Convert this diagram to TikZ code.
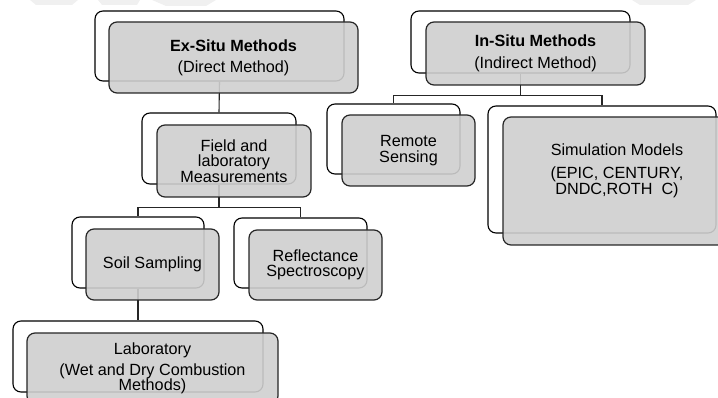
\documentclass[tikz,border=0pt]{standalone}
\usepackage{fontspec}
\setmainfont{Liberation Sans}
\definecolor{boxgray}{RGB}{207,207,207}
\definecolor{wmgray}{RGB}{240,240,240}
\begin{document}
\begin{tikzpicture}[x=1pt,y=-1pt,
  backbox/.style={draw=black, line width=1.1pt, rounded corners=8pt, fill=white,
     inner sep=0pt, minimum width=#1},
  frontbox/.style={draw=black!85, line width=1.2pt, rounded corners=8pt, fill=boxgray,
     fill opacity=0.9, text opacity=1, inner sep=0pt, minimum width=#1, align=center,
     font=\fontsize{16.2}{15.5}\selectfont},
  txt/.style={align=center, inner sep=0pt, font=\fontsize{16.2}{14.5}\selectfont},
  conn/.style={draw=black!85, line width=1.1pt}
]
\useasboundingbox (0,0) rectangle (718,398);
\clip (0,0) rectangle (718,398);
% faint watermark fragments
\fill[wmgray] (30,0) -- (78,0) -- (72,5) -- (36,5) -- cycle;
\fill[wmgray] (98,0) -- (140,0) -- (137,5) -- (102,5) -- cycle;
\fill[wmgray] (152,0) -- (216,0) -- (206,6) -- (166,6) -- cycle;
\fill[wmgray] (632,0) -- (696,0) -- (688,5) -- (640,5) -- cycle;

% back boxes
\node[backbox=249, minimum height=70] (exb) at (219.5,46) {};
\node[backbox=219, minimum height=62] (inb) at (520.5,42) {};
\node[backbox=154, minimum height=71] (fb) at (219,148.5) {};
\node[backbox=133, minimum height=70] (remb) at (393.5,139) {};
\node[backbox=228, minimum height=127] (simb) at (602,169.5) {};
\node[backbox=132, minimum height=71] (soilb) at (138,252.5) {};
\node[backbox=133, minimum height=70] (reflb) at (300.5,253) {};
\node[backbox=250, minimum height=71] (labb) at (138,356.5) {};

% connectors
\draw[conn] (exb.south) -- (fb.north);
\draw[conn] (fb.south) -- ++(0,23) -| (soilb.north);
\draw[conn] (fb.south) -- ++(0,23) -| (reflb.north);
\draw[conn] (inb.south) -- ++(0,22) -| (remb.north);
\draw[conn] (inb.south) -- ++(0,22) -| (simb.north);
\draw[conn] (soilb.south) -- (labb.north);

% front boxes
\node[frontbox=249, minimum height=71] (exf) at (233.5,57.5)
  {\textbf{Ex-Situ Methods}\\[5.5pt](Direct Method)};
\node[frontbox=219, minimum height=63] (inf) at (535.5,53.5)
  {\textbf{In-Situ Methods}\\[6pt](Indirect Method)};
\node[frontbox=154, minimum height=72] (ff) at (234,161)
  {Field and\\laboratory\\Measurements};
\node[frontbox=133, minimum height=71] (remf) at (408.5,150.5)
  {Remote\\Sensing};
\node[frontbox=228, minimum height=128] (simf) at (617,181) {};
\node[txt] (simt) at (617,170.5)
  {Simulation Models\\[8.5pt](EPIC, CENTURY,\\DNDC,ROTH\ \ C)};
\node[frontbox=133, minimum height=71] (soilf) at (152.5,264.5)
  {Soil Sampling};
\node[frontbox=133, minimum height=70] (reflf) at (315.5,265)
  {Reflectance\\Spectroscopy};
\node[frontbox=251, minimum height=71] (labf) at (152.5,368.5)
  {Laboratory\\[5.5pt](Wet and Dry Combustion\\Methods)};
\end{tikzpicture}
\end{document}
